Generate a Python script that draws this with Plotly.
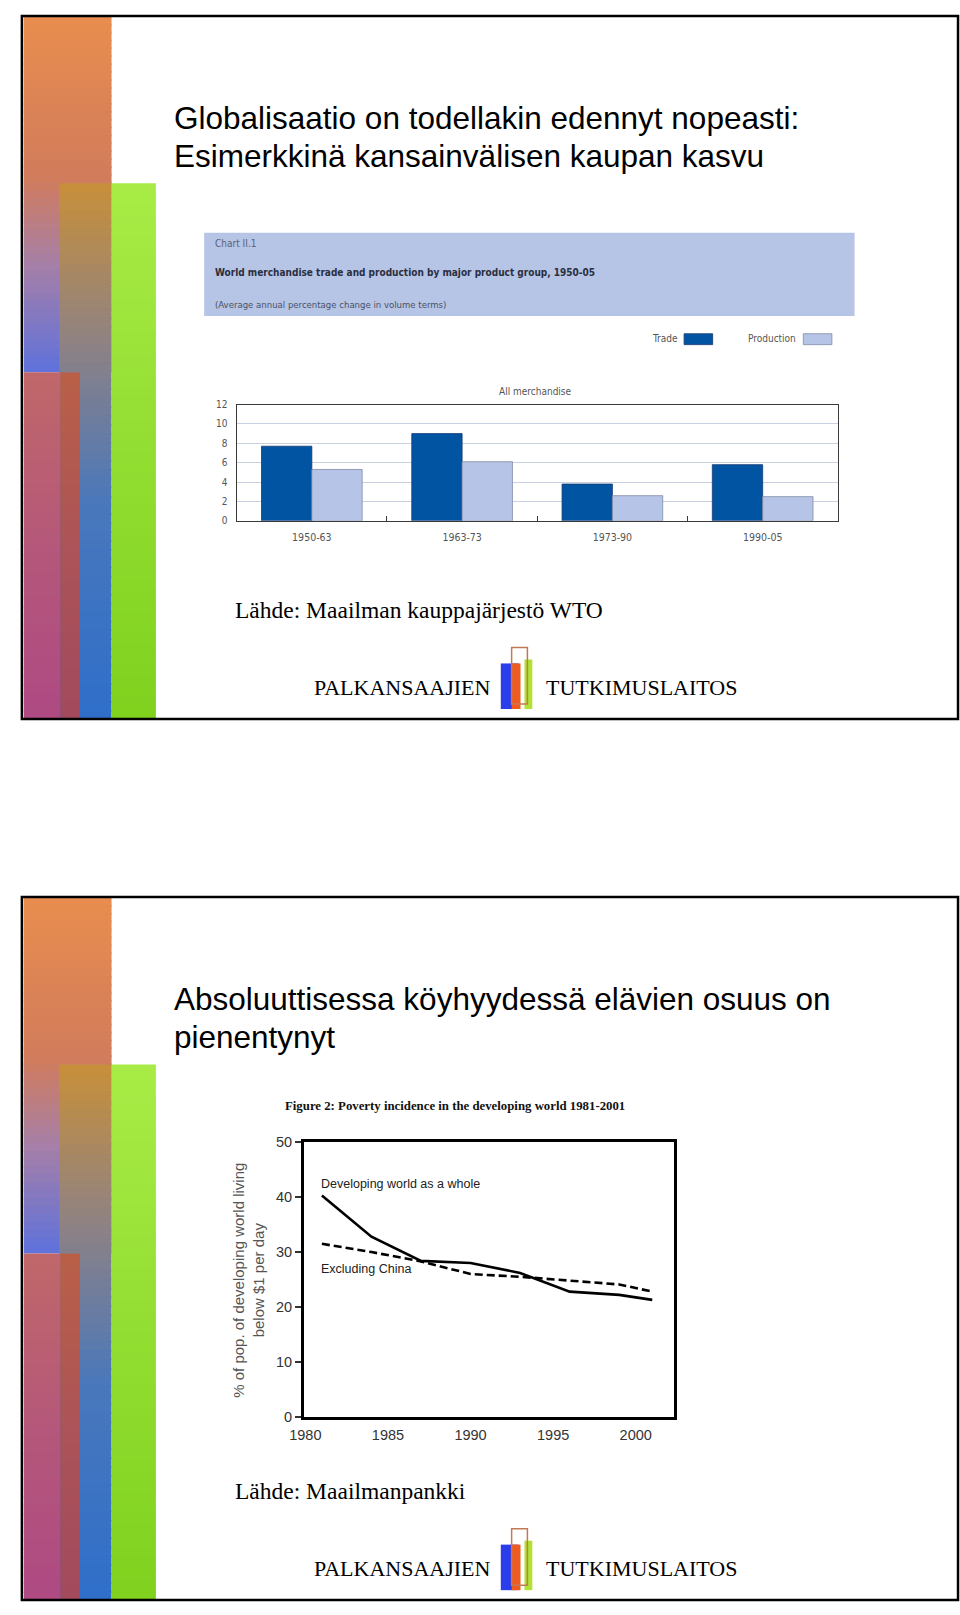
import plotly.graph_objects as go

# ---------------- data ----------------
periods = ["1950-63", "1963-73", "1973-90", "1990-05"]
trade = [7.7, 9.0, 3.8, 5.8]
production = [5.3, 6.1, 2.6, 2.5]
bar_yticks = [0, 2, 4, 6, 8, 10, 12]

years = [1981, 1984, 1987, 1990, 1993, 1996, 1999, 2001]
whole = [40.3, 32.8, 28.4, 28.0, 26.2, 22.8, 22.2, 21.3]
excl_china = [31.5, 30.0, 28.3, 26.0, 25.5, 24.8, 24.1, 22.8]
line_xticks = [1980, 1985, 1990, 1995, 2000]
line_yticks = [0, 10, 20, 30, 40, 50]

W, H = 960, 1615


def fx(x):
    return x / W


def fy(y):
    return 1 - y / H


shapes = []
annotations = []


def rect(x0, y0, x1, y1, fill="rgba(0,0,0,0)", line=None, lw=0):
    shapes.append(dict(type="rect", xref="paper", yref="paper",
                       x0=fx(x0), x1=fx(x1), y0=fy(y1), y1=fy(y0),
                       fillcolor=fill,
                       line=dict(color=line if line else "rgba(0,0,0,0)", width=lw),
                       layer="below"))


def hex2rgb(h):
    h = h.lstrip("#")
    return tuple(int(h[i:i + 2], 16) for i in (0, 2, 4))


def colour_at(stops, t):
    for (t0, c0), (t1, c1) in zip(stops[:-1], stops[1:]):
        if t0 <= t <= t1:
            a = (t - t0) / (t1 - t0) if t1 > t0 else 0
            r0, g0, b0 = hex2rgb(c0)
            r1, g1, b1 = hex2rgb(c1)
            return "rgb(%d,%d,%d)" % (r0 + (r1 - r0) * a, g0 + (g1 - g0) * a, b0 + (b1 - b0) * a)
    return stops[-1][1]


def grad_rect(x0, y0, x1, y1, stops, n=40):
    h = (y1 - y0) / n
    for i in range(n):
        t = (i + 0.5) / n
        rect(x0, y0 + i * h, x1, min(y1, y0 + (i + 1) * h + 1.5), fill=colour_at(stops, t))


def text(x, y, s, size, family="Liberation Sans, Arial, sans-serif", color="#000",
         xanchor="left", yanchor="middle", angle=0, bold=False):
    if bold:
        s = "<b>" + s + "</b>"
    annotations.append(dict(xref="paper", yref="paper", x=fx(x), y=fy(y), text=s,
                            showarrow=False, xanchor=xanchor, yanchor=yanchor,
                            textangle=angle,
                            font=dict(size=size, family=family, color=color)))


SERIF = "Liberation Serif, Times New Roman, serif"
NARROW = "Liberation Sans Narrow, Arial Narrow, DejaVu Sans Condensed, sans-serif"


def slide(off, title1, title2, source):
    # decorative bars
    grad_rect(10, 8 + off, 99, 368 + off,
              [(0, "#E98E4F"), (0.45, "#D27C5C"), (0.7, "#A680A8"), (1, "#5F72DC")], 45)
    grad_rect(46, 177 + off, 99, 718 + off,
              [(0, "#C9903A"), (0.3, "#8E8284"), (0.6, "#4A78BC"), (1, "#2F6FCB")], 60)
    grad_rect(10, 368 + off, 47, 718 + off,
              [(0, "#C0686A"), (0.5, "#B5587A"), (1, "#AF4A84")], 40)
    grad_rect(47, 368 + off, 67, 718 + off,
              [(0, "#BA6048"), (0.5, "#AC5458"), (1, "#A34A5E")], 40)
    grad_rect(99, 177 + off, 144, 718 + off,
              [(0, "#A9EC47"), (0.5, "#93DE32"), (1, "#80D21F")], 50)
    # slide border
    rect(8, 8 + off, 958, 718 + off, line="#000", lw=2.5)
    # titles
    text(160, 111 + off, title1, 31.5)
    text(160, 149 + off, title2, 31.5)
    # source
    text(222, 608 + off, source, 23.5, family=SERIF)
    # footer
    text(302, 686 + off, "PALKANSAAJIEN", 22, family=SERIF)
    text(538, 686 + off, "TUTKIMUSLAITOS", 22, family=SERIF)
    rect(494, 662 + off, 512, 708 + off, fill="#2B3DEB")
    rect(505, 662 + off, 514, 708 + off, fill="#F05A1E")
    rect(518, 658 + off, 526, 708 + off, fill="#B2E233")
    rect(505, 646 + off, 521, 703 + off, line="#C27A56", lw=1.5)


OFF2 = 890
slide(0, "Globalisaatio on todellakin edennyt nopeasti:",
      "Esimerkkinä kansainvälisen kaupan kasvu",
      "Lähde: Maailman kauppajärjestö WTO")
slide(OFF2, "Absoluuttisessa köyhyydessä elävien osuus on",
      "pienentynyt",
      "Lähde: Maailmanpankki")

# ---------- chart 1 decorations (header + legend) ----------
rect(193, 227, 853, 311, fill="#B6C4E5")
text(202, 238, "Chart II.1", 10, family=NARROW, color="#5A6278")
text(202, 267, "World merchandise trade and production by major product group, 1950-05",
     10, family=NARROW, color="#2A2F40", bold=True)
text(202, 299, "(Average annual percentage change in volume terms)", 9.5,
     family=NARROW, color="#4A5268")
text(676, 334, "Trade", 10, family=NARROW, color="#555", xanchor="right")
rect(680, 329, 709, 340, fill="#0054A2", line="#1A3A70", lw=0.8)
text(796, 334, "Production", 10, family=NARROW, color="#555", xanchor="right")
rect(801, 329, 830, 340, fill="#B6C4E7", line="#7F8CA6", lw=0.8)
text(529, 387, "All merchandise", 10, family=NARROW, color="#555", xanchor="center")

# ---------- chart 2 decorations ----------
text(448, 1109, "Figure 2: Poverty incidence in the developing world 1981-2001", 12.8,
     family=SERIF, color="#111", xanchor="center", bold=True)
text(238, 1285, "% of pop. of developing world living<br>below $1 per day", 15,
     color="#555", xanchor="center", angle=-90)

fig = go.Figure()

fig.add_trace(go.Bar(x=periods, y=trade, name="Trade", xaxis="x", yaxis="y",
                     marker=dict(color="#0054A2", line=dict(color="#163B72", width=0.8))))
fig.add_trace(go.Bar(x=periods, y=production, name="Production", xaxis="x", yaxis="y",
                     marker=dict(color="#B6C4E7", line=dict(color="#7F8CA6", width=0.8))))

fig.add_trace(go.Scatter(x=years, y=whole, mode="lines", name="Developing world as a whole",
                         xaxis="x2", yaxis="y2", line=dict(color="#000", width=2.6)))
fig.add_trace(go.Scatter(x=years, y=excl_china, mode="lines", name="Excluding China",
                         xaxis="x2", yaxis="y2",
                         line=dict(color="#000", width=2.6, dash="8px,4px")))

annotations.append(dict(xref="x2", yref="y2", x=1980.85, y=42.4,
                        text="Developing world as a whole", showarrow=False,
                        xanchor="left", yanchor="middle",
                        font=dict(size=12.5, family="Liberation Sans, Arial, sans-serif",
                                  color="#222")))
annotations.append(dict(xref="x2", yref="y2", x=1980.85, y=27.0,
                        text="Excluding China", showarrow=False,
                        xanchor="left", yanchor="middle",
                        font=dict(size=12.5, family="Liberation Sans, Arial, sans-serif",
                                  color="#222")))

fig.update_layout(
    width=W, height=H,
    margin=dict(l=0, r=0, t=0, b=0),
    paper_bgcolor="white", plot_bgcolor="white",
    showlegend=False,
    barmode="group", bargap=0.33, bargroupgap=0,
    shapes=shapes, annotations=annotations,
    xaxis=dict(domain=[fx(226), fx(836)], anchor="y", type="category",
               showline=True, linecolor="#3A3A3A", linewidth=1.3, mirror=True,
               ticks="inside", tickson="boundaries", ticklen=5, tickcolor="#3A3A3A",
               showgrid=False, ticklabelstandoff=6,
               tickfont=dict(size=10.5, family=NARROW, color="#555")),
    yaxis=dict(domain=[fy(518), fy(400.5)], anchor="x", range=[0, 12],
               tickvals=bar_yticks, showgrid=True, gridcolor="#C8D0E2", gridwidth=1,
               zeroline=False, showline=True, linecolor="#3A3A3A", linewidth=1.3, mirror=True,
               ticks="", ticklabelstandoff=6,
               tickfont=dict(size=10, family=NARROW, color="#555")),
    xaxis2=dict(domain=[fx(294), fx(669.5)], anchor="y2", range=[1979.9, 2002.3],
                tickvals=line_xticks, showgrid=False, zeroline=False,
                showline=True, linecolor="#000", linewidth=2.5, mirror=True,
                ticks="", ticklabelstandoff=3,
                tickfont=dict(size=14.5, family="Liberation Sans, Arial, sans-serif",
                              color="#333")),
    yaxis2=dict(domain=[fy(1423), fy(1145.5)], anchor="x2", range=[0, 50],
                tickvals=line_yticks, showgrid=False, zeroline=False,
                showline=True, linecolor="#000", linewidth=2.5, mirror=True,
                ticks="outside", ticklen=6, tickwidth=1.5, tickcolor="#333",
                ticklabelstandoff=0,
                tickfont=dict(size=14.5, family="Liberation Sans, Arial, sans-serif",
                              color="#333")),
)

fig.write_html("out.html",
               config={"displayModeBar": False},
               post_script="document.body.style.margin='0px';"
                           "document.documentElement.style.overflow='hidden';"
                           "document.body.style.overflow='hidden';")
